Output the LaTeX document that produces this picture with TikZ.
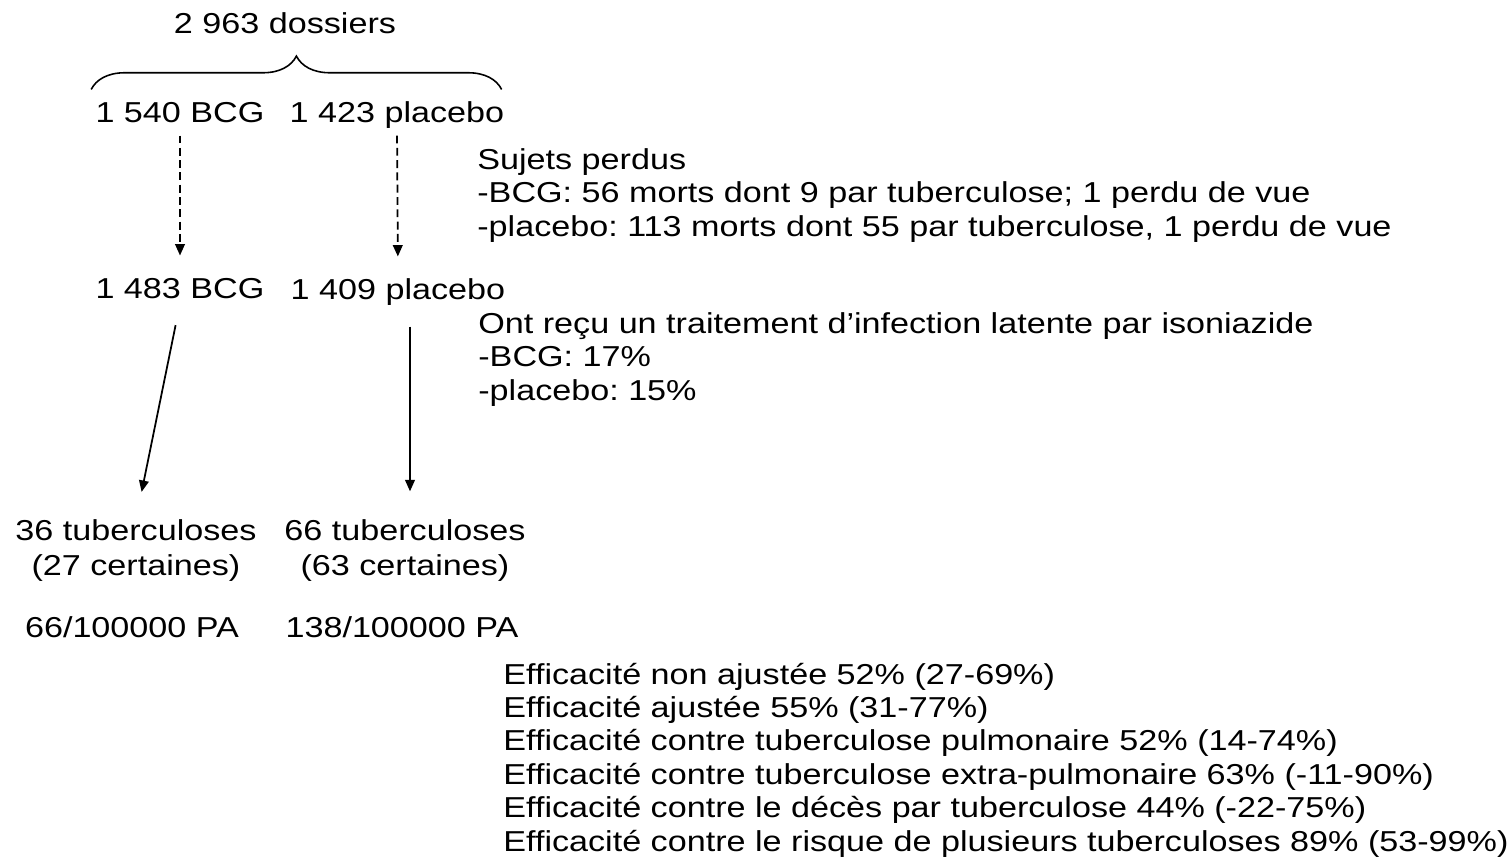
\documentclass[tikz,border=0pt]{standalone}
\usepackage{fontspec}
\setmainfont{Liberation Sans}[FakeStretch=1.185]
\usetikzlibrary{positioning,calc,arrows.meta,decorations.pathreplacing}
\frenchspacing
\tikzset{
	txt/.style={inner sep=0pt, text height=11.5pt, text depth=3pt, font=\fontsize{16.4}{19}\selectfont},
	blk/.style={inner sep=0pt, align=left, anchor=base west, font=\fontsize{16.4}{19}\selectfont},
	fl/.style={line width=1pt, -{Triangle[length=6.5pt,width=5.5pt]}},
	dsh/.style={fl, dash pattern=on 4.5pt off 2.5pt}
}
\begin{document}
\begin{tikzpicture}[x=0.02cm,y=-0.02cm]
\useasboundingbox (0,0) rectangle (1511,866);
\node[txt, anchor=base](total) at (285,33){2 963 dossiers};
\node[txt, anchor=base](bcgA) at (180,122){1 540 BCG};
\node[txt, anchor=base](plcA) at (397,122){1 423 placebo};
\node[txt, anchor=base](bcgB) at (180,298){1 483 BCG};
\node[txt, anchor=base](plcB) at (398,299){1 409 placebo};
\node[txt, anchor=base](tbA) at (136,540){36 tuberculoses};
\node[txt, anchor=base](ctA) at (136,575){(27 certaines)};
\node[txt, anchor=base](tbB) at (405,540){66 tuberculoses};
\node[txt, anchor=base](ctB) at (405,575){(63 certaines)};
\node[txt, anchor=base](paA) at (132,637){66/100000 PA};
\node[txt, anchor=base](paB) at (402,637){138/100000 PA};
% anchor base = baseline of the last line
\node[blk](lost) at (477,236){Sujets perdus\\-BCG: 56 morts dont 9 par tuberculose; 1 perdu de vue\\-placebo: 113 morts dont 55 par tuberculose, 1 perdu de vue};
\node[blk](inh) at (478,400){Ont reçu un traitement d’infection latente par isoniazide\\-BCG: 17\%\\-placebo: 15\%};
\node[blk](eff) at (503,851){Efficacité non ajustée 52\% (27-69\%)\\Efficacité ajustée 55\% (31-77\%)\\Efficacité contre tuberculose pulmonaire 52\% (14-74\%)\\Efficacité contre tuberculose extra-pulmonaire 63\% (-11-90\%)\\Efficacité contre le décès par tuberculose 44\% (-22-75\%)\\Efficacité contre le risque de plusieurs tuberculoses 89\% (53-99\%)};

\coordinate (plcBs) at ($(plcB.south)+(12,0)$);
\draw[line width=0.9pt, decorate, decoration={brace, amplitude=19pt}]($(bcgA.north west)+(-4,-12)$)to($(plcA.north east)+(-3,-12)$);
\draw[dsh, shorten <=4.5pt, shorten >=12.5pt](bcgA.south)to(bcgB.north);
\draw[dsh, shorten <=4.5pt, shorten >=12.5pt](plcA.south)to(plcB.north);
\draw[fl, shorten <=12.5pt, shorten >=16pt](bcgB.south)to(tbA.north);
\draw[fl, shorten <=12.5pt, shorten >=16pt](plcBs)to(plcBs|-tbB.north);
\end{tikzpicture}
\end{document}
